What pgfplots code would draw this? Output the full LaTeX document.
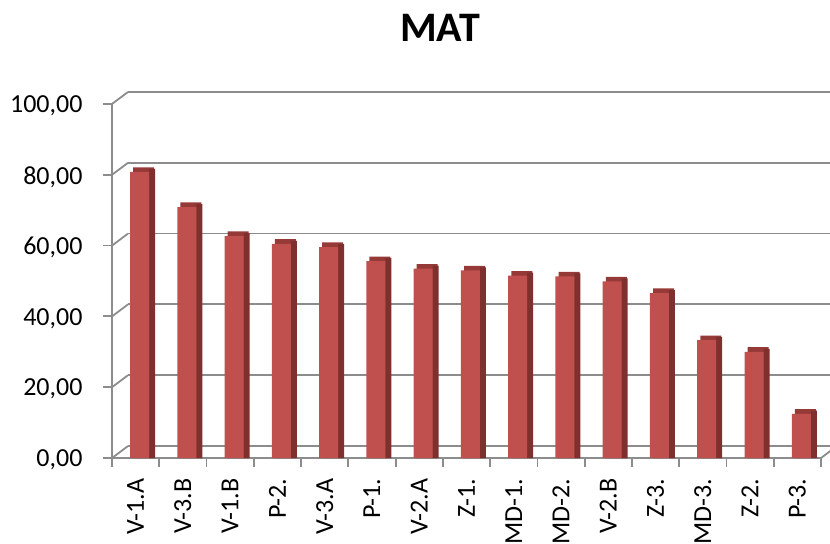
\documentclass[border=0pt]{standalone}
\usepackage{pgfplots}
\usepackage{pgfplotstable}
\pgfplotsset{compat=1.18}
\usepackage{fontspec}
\setmainfont{Carlito}
\definecolor{axgray}{RGB}{140,140,140}
\definecolor{frontc}{RGB}{192,80,77}
\definecolor{sidec}{RGB}{125,48,46}
\definecolor{topc}{RGB}{150,58,56}
\pgfplotstableread{
x v
0 80.8
1 70.9
2 62.7
3 60.5
4 59.6
5 55.6
6 53.5
7 53.0
8 51.5
9 51.3
10 49.9
11 46.6
12 33.3
13 30.0
14 12.5
}\datatable
\begin{document}
\begin{tikzpicture}
\path[use as bounding box] (-112bp,-86bp) rectangle (718bp,458bp);
\begin{axis}[
  at={(0,0)}, anchor=south west,
  scale only axis, width=709bp, height=354bp,
  xmin=-0.5, xmax=14.5, ymin=0, ymax=100,
  clip=false,
  ybar,
  axis lines*=left,
  axis line style={draw=axgray, line width=1.8bp},
  ytick={0,20,40,60,80,100},
  tick align=outside,
  major tick length=9bp,
  ytick style={draw=axgray, line width=1.8bp},
  xtick={0,...,14},
  xticklabels={V-1.A,V-3.B,V-1.B,P-2.,V-3.A,P-1.,V-2.A,Z-1.,MD-1.,MD-2.,V-2.B,Z-3.,MD-3.,Z-2.,P-3.},
  xtick style={draw=none},
  extra x ticks={-0.5,0.5,...,14.5},
  extra x tick labels={},
  extra x tick style={xtick style={draw=axgray, line width=1.8bp}, grid=none},
  xticklabel shift=8bp,
  xticklabel style={rotate=90, anchor=east, font=\fontsize{26bp}{30bp}\selectfont},
  yticklabel style={font=\fontsize{26bp}{30bp}\selectfont, xshift=-17bp, yshift=-2bp},
  /pgf/number format/assume math mode=true,
  yticklabel={\pgfmathprintnumber[fixed, fixed zerofill, precision=2, use comma]{\tick}},
  ymajorgrids,
  major grid style={draw=axgray, line width=1.8bp, xshift=16bp, yshift=12bp},
  title={MAT},
  title style={font=\fontsize{42bp}{50bp}\selectfont\bfseries, at={(axis description cs:0.4626,1.199)}, anchor=center},
]
\addplot[ybar, bar width=21bp, bar shift=8bp, fill=topc, draw=none] table[x=x, y expr=\thisrow{v}+1.3]{\datatable};
\addplot[ybar, bar width=6bp, bar shift=16.4bp, fill=sidec, draw=none] table[x=x, y expr=\thisrow{v}+0.85]{\datatable};
\addplot[ybar, bar width=19bp, bar shift=3.9bp, fill=frontc, draw=none] table[x=x, y=v]{\datatable};
\pgfplotsinvokeforeach{0,20,40,60,80,100}{
  \draw[axgray, line width=1.8bp] (axis cs:-0.5,#1) -- ++(16bp,12bp);
}
\draw[axgray, line width=1.8bp] (axis cs:14.5,0) -- ++(16bp,12bp);
\end{axis}
\end{tikzpicture}
\end{document}
